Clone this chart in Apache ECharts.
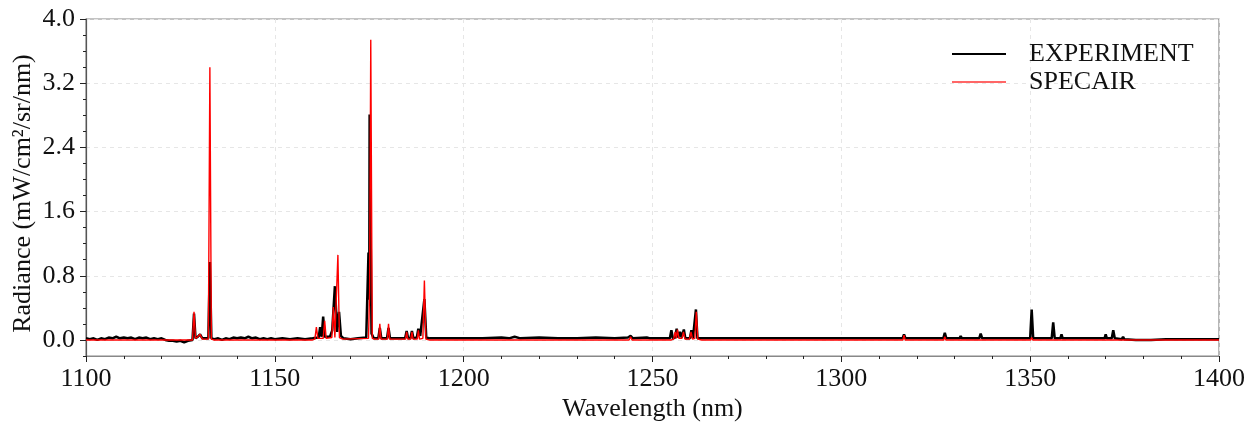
<!DOCTYPE html>
<html>
<head>
<meta charset="utf-8">
<script src="https://cdn.jsdelivr.net/npm/echarts@6/dist/echarts.min.js"></script>
<style>html,body{margin:0;padding:0;background:#fff;}#c{width:1257px;height:425px;}</style>
</head>
<body>
<div id="c"></div>
<script>
// Wavelength (nm) / radiance (mW/cm²/sr/nm)
var expX = [1100,1101,1102,1103,1104,1105,1106,1107,1108,1109,1110,1111,1112,1113,1114,1115,1116,1117,1118,1119,1120,1121,1122,1123,1124,1125,1126,1127,1128.2,
  1128.6,1129.0,1129.6,1130.2,1130.8,1132.4,1132.8,1133.2,1134,1135,1136,1137,1138,1139,1140,1141,1142,1143,1144,1145,1146,1147,1148,1149,1150,1152,1154,1156,1158,1160,
  1161.6,1162.0,1162.4,1162.8,1163.2,1164.6,1165.2,1165.9,1166.5,1167.0,1167.5,1168.2,1170,1172,1174.2,1174.8,1175.0,1175.1,1175.6,1176.2,
  1177.4,1177.8,1178.2,1179.7,1180.1,1180.5,1182,1184.5,1184.9,1185.3,1185.9,1186.3,1186.7,1187.6,1188.0,1188.5,1189.1,1189.6,1190.1,1191,
  1195,1200,1205,1210,1212,1213.5,1215,1220,1225,1230,1235,1240,1243.5,1244.2,1244.8,1248.5,1248.9,1249.4,
  1254.6,1255.0,1255.4,1256.0,1256.4,1256.8,1257.3,1257.7,1258.3,1258.7,1259.9,1260.3,1260.7,1261.1,1261.5,1261.9,
  1265,1270,1275,1280,1285,1290,1295,1300,1305,1310,1316.2,1316.6,1317.0,1322.8,1323.1,1323.4,1327.0,1327.4,1327.8,1331.3,1331.6,1331.9,
  1336.5,1336.9,1337.3,1340.4,1340.7,1341,1345,1350.0,1350.4,1350.8,1355.7,1356.1,1356.5,1358.0,1358.3,1358.6,1362.2,1362.5,1362.8,
  1367.7,1368.0,1368.3,1369.7,1370.0,1370.3,1371.6,1372.0,1372.4,1374.3,1374.6,1374.9,1378,1382,1386,1390.9,1391.2,1391.5,1395,1400];
var expY = [0.02,0.01,0.02,0.0,0.02,0.01,0.03,0.02,0.04,0.02,0.03,0.02,0.03,0.01,0.03,0.02,0.03,0.01,0.02,0.01,0.02,0.0,-0.01,-0.01,-0.02,-0.01,-0.03,-0.01,0.0,
  0.33,0.02,0.04,0.07,0.02,0.02,0.97,0.02,0.01,0.02,0.0,0.02,0.01,0.03,0.02,0.03,0.02,0.04,0.02,0.03,0.01,0.02,0.01,0.02,0.01,0.02,0.01,0.02,0.01,0.02,
  0.03,0.16,0.04,0.29,0.04,0.04,0.12,0.67,0.1,0.35,0.05,0.02,0.01,0.02,0.03,1.09,0.5,2.81,0.08,0.02,
  0.02,0.15,0.02,0.02,0.15,0.02,0.02,0.02,0.11,0.02,0.02,0.11,0.02,0.03,0.14,0.05,0.3,0.51,0.03,0.02,
  0.02,0.02,0.02,0.03,0.02,0.04,0.02,0.03,0.02,0.02,0.03,0.02,0.03,0.05,0.02,0.03,0.04,0.02,
  0.02,0.12,0.02,0.03,0.14,0.03,0.1,0.03,0.13,0.02,0.02,0.12,0.02,0.03,0.38,0.02,
  0.02,0.02,0.02,0.02,0.02,0.02,0.02,0.02,0.02,0.02,0.02,0.07,0.02,0.02,0.03,0.02,0.02,0.09,0.02,0.02,0.05,0.02,
  0.02,0.08,0.02,0.02,0.03,0.02,0.02,0.02,0.38,0.02,0.02,0.22,0.02,0.02,0.07,0.02,0.02,0.04,0.02,
  0.02,0.03,0.02,0.02,0.07,0.02,0.02,0.12,0.02,0.01,0.04,0.01,0.0,0.0,0.01,0.01,0.03,0.01,0.01,0.01];

var simX = [1100,1128.2,1128.6,1129.0,1129.6,1130.2,1130.8,1132.4,1132.8,1133.2,1133.8,1160,1160.6,1161.0,1161.4,1162.8,1163.2,1163.6,
  1165.1,1165.5,1165.9,1166.3,1166.7,1167.1,1168,1174.8,1175.1,1175.4,1175.8,1176.4,1177.5,1177.8,1178.1,1179.8,1180.1,1180.4,
  1184.6,1184.9,1185.2,1186.0,1186.3,1186.6,1187.7,1188.0,1188.3,1189.2,1189.6,1190.0,1191,1243.8,1244.2,1244.6,
  1255,1255.6,1256.0,1256.3,1256.6,1257.0,1257.8,1258.2,1258.6,1259.8,1260.2,1260.6,1261.2,1261.6,1262.0,1263,
  1316.3,1316.6,1316.9,1327.1,1327.4,1327.7,1331.3,1331.6,1331.9,1350.1,1350.4,1350.7,1400];
var simY = [0.0,0.0,0.35,0.02,0.04,0.07,0.01,0.01,3.40,0.01,0.0,0.0,0.01,0.16,0.02,0.02,0.24,0.02,
  0.03,0.41,0.03,0.05,1.06,0.03,0.01,0.02,0.6,3.74,0.02,0.01,0.01,0.2,0.01,0.01,0.2,0.01,
  0.01,0.1,0.01,0.01,0.1,0.01,0.01,0.12,0.01,0.02,0.74,0.01,0.0,0.0,0.04,0.0,
  0.0,0.01,0.1,0.02,0.13,0.02,0.02,0.1,0.01,0.01,0.1,0.01,0.02,0.35,0.01,0.0,
  0.0,0.06,0.0,0.0,0.04,0.0,0.0,0.02,0.0,0.0,0.03,0.0,0.0];

var yMajor = [0.0,0.8,1.6,2.4,3.2,4.0];
var seriesNames = ['EXPERIMENT','SPECAIR'];

function zip(a,b){var r=[];for(var i=0;i<a.length;i++)r.push([a[i],b[i]]);return r;}

var FONT = 'Liberation Serif';
var chart = echarts.init(document.getElementById('c'), null, {renderer:'canvas'});
chart.setOption({
  animation:false,
  textStyle:{fontFamily:FONT},
  grid:{left:86,right:38,top:19,bottom:69,show:true,borderColor:'#888',borderWidth:1.2,containLabel:false,outerBoundsMode:'none'},
  legend:{
    orient:'vertical',left:947,top:36,itemWidth:54,itemHeight:2,itemGap:2,icon:'rect',
    textStyle:{fontFamily:FONT,fontSize:26,color:'#111',padding:[0,0,0,18],lineHeight:26},
    data:[{name:seriesNames[0],itemStyle:{color:'#000'}},{name:seriesNames[1],itemStyle:{color:'#f66'}}]
  },
  xAxis:{
    type:'value',min:1100,max:1400,interval:50,
    name:'Wavelength (nm)',nameLocation:'middle',nameGap:40,nameMoveOverlap:false,
    nameTextStyle:{fontFamily:FONT,fontSize:26,color:'#111'},
    axisLine:{show:true,onZero:false,lineStyle:{color:'#888',width:1.2}},
    axisTick:{show:true,length:6,lineStyle:{color:'#222',width:1}},
    minorTick:{show:true,splitNumber:5,length:3,lineStyle:{color:'#222',width:1}},
    axisLabel:{fontFamily:FONT,fontSize:26,color:'#111',margin:10,formatter:function(v){return String(v);}},
    splitLine:{show:true,lineStyle:{color:'#e6e6e6',type:[4,4],width:1}}
  },
  yAxis:[{
    type:'value',min:-0.2,max:4.0,interval:0.2,
    name:'Radiance (mW/cm²/sr/nm)',nameLocation:'middle',nameGap:50,nameMoveOverlap:false,
    nameTextStyle:{fontFamily:FONT,fontSize:26,color:'#111',padding:[0,12,0,0]},
    axisLine:{show:true,onZero:false,lineStyle:{color:'#555',width:1.2}},
    axisTick:{show:true,length:6,customValues:yMajor,lineStyle:{color:'#222',width:1}},
    axisLabel:{fontFamily:FONT,fontSize:26,color:'#111',margin:11,customValues:yMajor,
      formatter:function(v){return v.toFixed(1);}},
    splitLine:{show:true,lineStyle:{color:'#e6e6e6',type:[4,4],width:1}}
  },{
    type:'value',min:-0.2,max:4.0,interval:0.2,position:'left',
    axisLine:{show:false},
    axisTick:{show:true,length:3,lineStyle:{color:'#222',width:1}},
    axisLabel:{show:false},splitLine:{show:false}
  }],
  series:[{
    name:seriesNames[0],type:'line',yAxisIndex:0,data:zip(expX,expY),
    showSymbol:false,symbol:'none',lineStyle:{color:'#000',width:2.5},itemStyle:{color:'#000'}
  },{
    name:seriesNames[1],type:'line',yAxisIndex:0,data:zip(simX,simY),
    showSymbol:false,symbol:'none',lineStyle:{color:'#ff0000',width:1.4},itemStyle:{color:'#ff0000'}
  }]
});
</script>
</body>
</html>
